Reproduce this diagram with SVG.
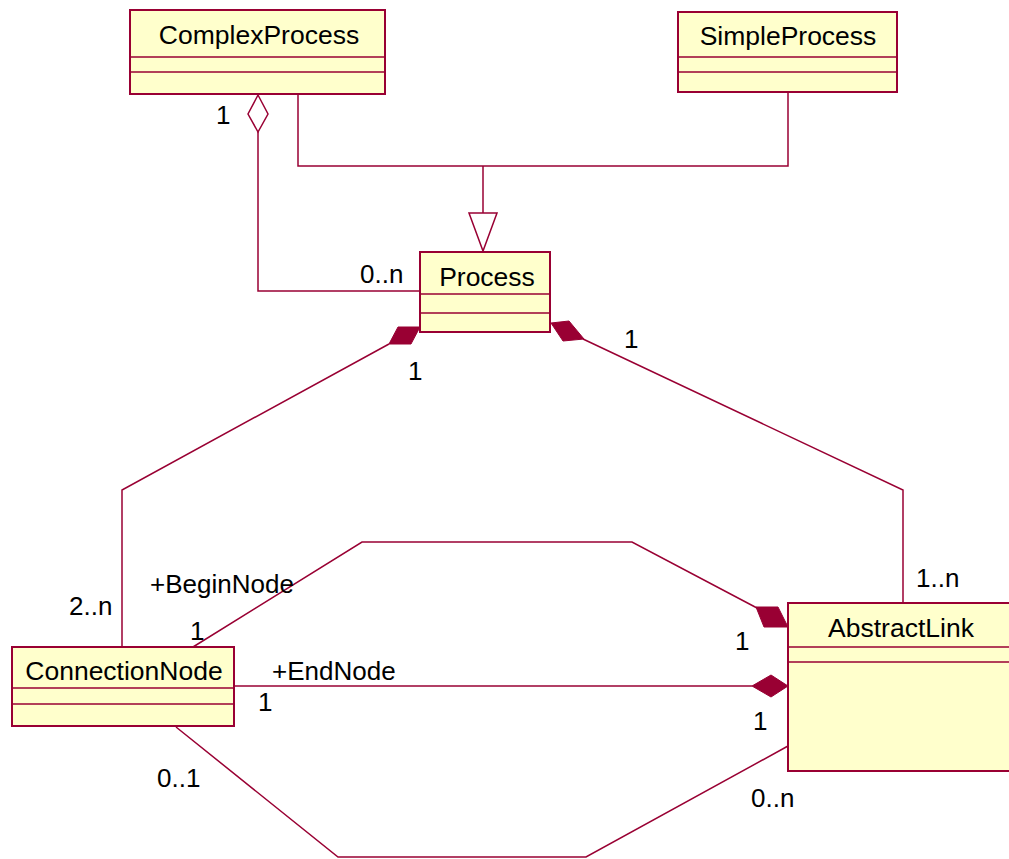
<svg xmlns="http://www.w3.org/2000/svg" width="1009" height="859" viewBox="0 0 1009 859">
<style>
.box{fill:#FFFFCC;stroke:#990033;stroke-width:2}
.div{stroke:#990033;stroke-width:1.5}
.ln{fill:none;stroke:#990033;stroke-width:1.5}
.fd{fill:#990033;stroke:#990033;stroke-width:1}
.hd{fill:#FFFFFF;stroke:#990033;stroke-width:1.5}
text{font-family:"Liberation Sans",Arial,sans-serif;font-size:26px;fill:#000}
.c{text-anchor:middle;font-size:26.5px}
</style>
<rect width="1009" height="859" fill="#FFFFFF"/>
<g id="connectors">
<polyline class="ln" points="298,94 298,166 788,166 788,92"/>
<polyline class="ln" points="483,166 483,213"/>
<polygon class="hd" points="469,213 497,213 483,251"/>
<polyline class="ln" points="258,132 258,291 420,291"/>
<polygon class="hd" points="258,95 268,114 258,132 248,114"/>
<polyline class="ln" points="389,344 122,490 122,647"/>
<polygon class="fd" points="398,327 420,327 411,344 389,344"/>
<polyline class="ln" points="583,339 903,490 903,603"/>
<polygon class="fd" points="551,323 569,321 584,339 563,341"/>
<polyline class="ln" points="193,647 362,542 632,542 757,608"/>
<polygon class="fd" points="756,607 778,607 788,627 764,627"/>
<polyline class="ln" points="234,686 752,686"/>
<polygon class="fd" points="752,686 771,675 788,686 771,697"/>
<polyline class="ln" points="176,727 338,857 586,857 788,746"/>
</g>
<g id="ComplexProcess">
<rect class="box" x="130" y="10" width="255" height="84"/>
<line class="div" x1="130" y1="57" x2="385" y2="57"/>
<line class="div" x1="130" y1="72" x2="385" y2="72"/>
<text class="c" x="259" y="44">ComplexProcess</text>
</g>
<g id="SimpleProcess">
<rect class="box" x="678" y="12" width="219" height="80"/>
<line class="div" x1="678" y1="57" x2="897" y2="57"/>
<line class="div" x1="678" y1="72" x2="897" y2="72"/>
<text class="c" x="788" y="45">SimpleProcess</text>
</g>
<g id="Process">
<rect class="box" x="420" y="252" width="130" height="80"/>
<line class="div" x1="420" y1="294" x2="550" y2="294"/>
<line class="div" x1="420" y1="313" x2="550" y2="313"/>
<text class="c" x="487" y="286">Process</text>
</g>
<g id="ConnectionNode">
<rect class="box" x="12" y="647" width="222" height="79"/>
<line class="div" x1="12" y1="688" x2="234" y2="688"/>
<line class="div" x1="12" y1="704" x2="234" y2="704"/>
<text class="c" x="124" y="680">ConnectionNode</text>
</g>
<g id="AbstractLink">
<rect class="box" x="788" y="603" width="228" height="168"/>
<line class="div" x1="788" y1="647" x2="1016" y2="647"/>
<line class="div" x1="788" y1="662" x2="1016" y2="662"/>
<text class="c" x="901" y="637">AbstractLink</text>
</g>
<g id="labels">
<text x="216" y="124">1</text>
<text x="360" y="283">0..n</text>
<text x="408" y="380">1</text>
<text x="624" y="348">1</text>
<text x="69" y="615">2..n</text>
<text x="150" y="593">+BeginNode</text>
<text x="190" y="640">1</text>
<text x="272" y="680">+EndNode</text>
<text x="258" y="711">1</text>
<text x="157" y="787">0..1</text>
<text x="916" y="587">1..n</text>
<text x="735" y="650">1</text>
<text x="753" y="730">1</text>
<text x="751" y="807">0..n</text>
</g>
</svg>
